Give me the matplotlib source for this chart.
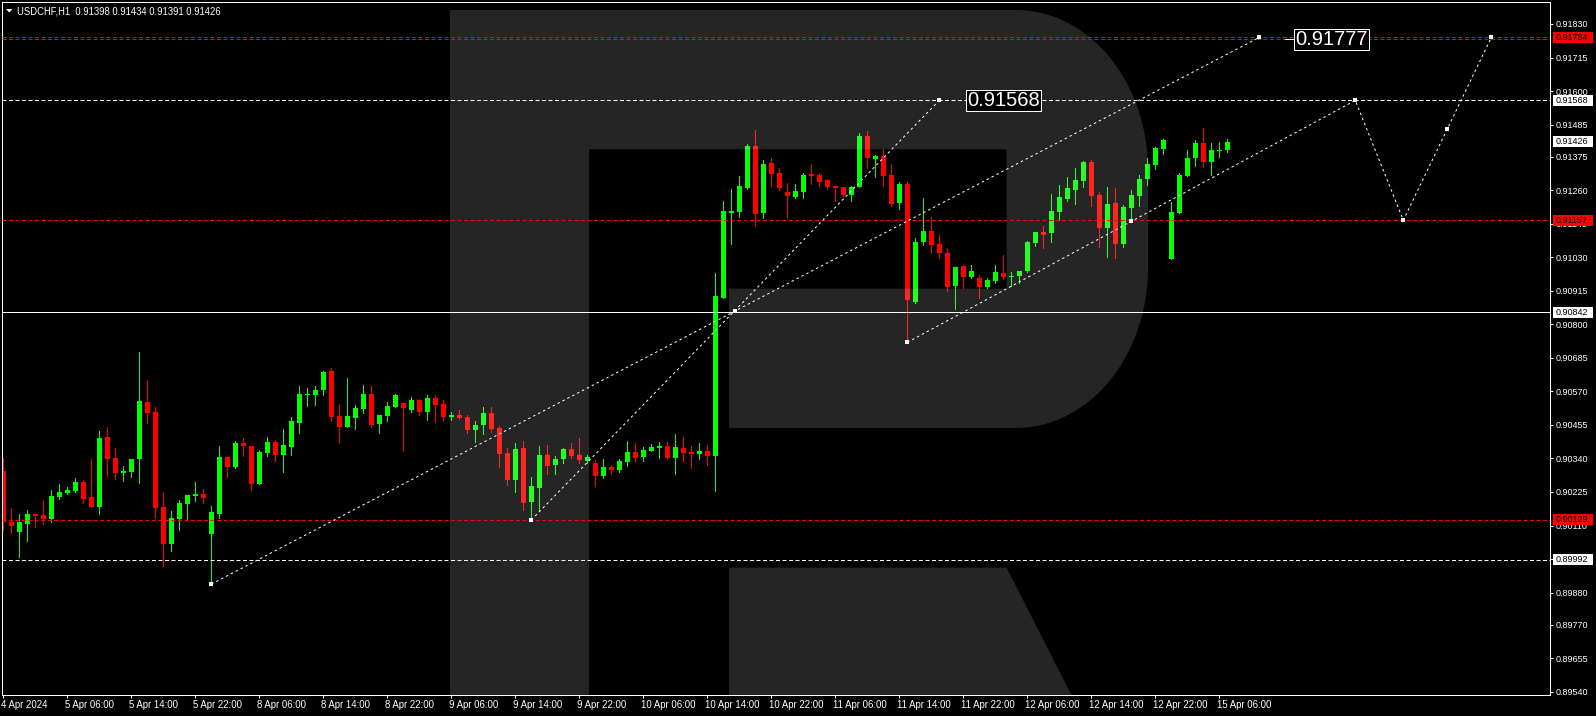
import matplotlib
matplotlib.use("Agg")
import matplotlib.pyplot as plt
import matplotlib.transforms as mtransforms
from matplotlib.patches import Polygon, Rectangle
from matplotlib import font_manager
import numpy as np

# ---------------- data (USDCHF H1, bar index 0 = 4 Apr 22:00) ----------------
opens = [0.90297, 0.90122, 0.90088, 0.90116, 0.90149, 0.90146, 0.90132, 0.90208, 0.90221, 0.90228,
         0.90259, 0.90207, 0.90174, 0.90413, 0.90341, 0.90291, 0.90294, 0.90338, 0.90533, 0.90499,
         0.90173, 0.90047, 0.90132, 0.90184, 0.90212, 0.90218, 0.90081, 0.90150, 0.90344, 0.90310,
         0.90392, 0.90382, 0.90253, 0.90359, 0.90396, 0.90352, 0.90380, 0.90462, 0.90557, 0.90557,
         0.90574, 0.90640, 0.90485, 0.90447, 0.90478, 0.90509, 0.90561, 0.90458, 0.90485, 0.90516,
         0.90530, 0.90506, 0.90540, 0.90499, 0.90547, 0.90526, 0.90482, 0.90489, 0.90482, 0.90437,
         0.90454, 0.90495, 0.90444, 0.90358, 0.90266, 0.90375, 0.90190, 0.90238, 0.90351, 0.90317,
         0.90338, 0.90372, 0.90351, 0.90331, 0.90324, 0.90279, 0.90310, 0.90300, 0.90327, 0.90362,
         0.90344, 0.90365, 0.90375, 0.90382, 0.90341, 0.90375, 0.90362, 0.90355, 0.90365, 0.90348,
         0.90891, 0.91182, 0.91185, 0.91267, 0.91411, 0.91181, 0.91353, 0.91319, 0.91253, 0.91236,
         0.91253, 0.91315, 0.91312, 0.91295, 0.91274, 0.91271, 0.91243, 0.91271, 0.91446, 0.91367,
         0.91377, 0.91312, 0.91216, 0.91281, 0.90876, 0.91082, 0.91120, 0.91075, 0.91044, 0.90931,
         0.91000, 0.90962, 0.90958, 0.90928, 0.90948, 0.90976, 0.90962, 0.90965, 0.90982, 0.91079,
         0.91116, 0.91113, 0.91185, 0.91229, 0.91260, 0.91291, 0.91356, 0.91243, 0.91130, 0.91216,
         0.91075, 0.91199, 0.91240, 0.91298, 0.91346, 0.91401, 0.91024, 0.91181, 0.91308, 0.91370,
         0.91422, 0.91356, 0.91394, 0.91398]
highs = [0.90341, 0.90170, 0.90149, 0.90163, 0.90149, 0.90197, 0.90231, 0.90254, 0.90242, 0.90272,
         0.90266, 0.90338, 0.90434, 0.90447, 0.90375, 0.90314, 0.90338, 0.90705, 0.90609, 0.90516,
         0.90224, 0.90159, 0.90197, 0.90214, 0.90259, 0.90235, 0.90176, 0.90382, 0.90344, 0.90399,
         0.90410, 0.90382, 0.90368, 0.90413, 0.90403, 0.90440, 0.90482, 0.90588, 0.90581, 0.90588,
         0.90640, 0.90650, 0.90526, 0.90615, 0.90523, 0.90591, 0.90588, 0.90489, 0.90533, 0.90561,
         0.90530, 0.90550, 0.90543, 0.90557, 0.90557, 0.90540, 0.90499, 0.90506, 0.90489, 0.90468,
         0.90516, 0.90516, 0.90451, 0.90375, 0.90392, 0.90399, 0.90276, 0.90382, 0.90386, 0.90348,
         0.90375, 0.90392, 0.90410, 0.90351, 0.90334, 0.90338, 0.90317, 0.90338, 0.90399, 0.90392,
         0.90379, 0.90389, 0.90396, 0.90396, 0.90423, 0.90413, 0.90382, 0.90392, 0.90386, 0.90976,
         0.91223, 0.91264, 0.91308, 0.91418, 0.91466, 0.91363, 0.91370, 0.91336, 0.91284, 0.91281,
         0.91319, 0.91349, 0.91319, 0.91298, 0.91274, 0.91271, 0.91274, 0.91456, 0.91463, 0.91380,
         0.91401, 0.91349, 0.91288, 0.91288, 0.91096, 0.91233, 0.91168, 0.91106, 0.91061, 0.90996,
         0.91000, 0.91003, 0.90969, 0.90958, 0.91003, 0.91037, 0.90979, 0.90982, 0.91085, 0.91116,
         0.91137, 0.91247, 0.91277, 0.91305, 0.91336, 0.91360, 0.91363, 0.91253, 0.91271, 0.91267,
         0.91209, 0.91260, 0.91312, 0.91370, 0.91408, 0.91435, 0.91219, 0.91319, 0.91398, 0.91432,
         0.91473, 0.91422, 0.91425, 0.91434]
lows = [0.90094, 0.90085, 0.90003, 0.90057, 0.90105, 0.90116, 0.90123, 0.90201, 0.90219, 0.90224,
        0.90188, 0.90174, 0.90150, 0.90280, 0.90270, 0.90263, 0.90277, 0.90256, 0.90462, 0.90136,
        0.89972, 0.90023, 0.90094, 0.90128, 0.90195, 0.90188, 0.89907, 0.90136, 0.90277, 0.90308,
        0.90349, 0.90232, 0.90253, 0.90349, 0.90332, 0.90294, 0.90352, 0.90428, 0.90520, 0.90524,
        0.90557, 0.90468, 0.90392, 0.90447, 0.90440, 0.90495, 0.90447, 0.90427, 0.90468, 0.90516,
        0.90365, 0.90499, 0.90489, 0.90471, 0.90465, 0.90468, 0.90471, 0.90475, 0.90427, 0.90396,
        0.90423, 0.90430, 0.90310, 0.90248, 0.90224, 0.90163, 0.90129, 0.90159, 0.90286, 0.90286,
        0.90324, 0.90341, 0.90324, 0.90324, 0.90245, 0.90272, 0.90286, 0.90293, 0.90314, 0.90331,
        0.90331, 0.90365, 0.90341, 0.90338, 0.90286, 0.90331, 0.90307, 0.90338, 0.90317, 0.90228,
        0.90891, 0.91076, 0.91168, 0.91264, 0.91137, 0.91164, 0.91274, 0.91260, 0.91168, 0.91233,
        0.91233, 0.91281, 0.91274, 0.91264, 0.91223, 0.91240, 0.91223, 0.91271, 0.91336, 0.91305,
        0.91274, 0.91205, 0.91195, 0.90738, 0.90873, 0.91072, 0.91044, 0.91027, 0.90914, 0.90852,
        0.90924, 0.90958, 0.90890, 0.90924, 0.90941, 0.90955, 0.90931, 0.90941, 0.90979, 0.91068,
        0.91061, 0.91082, 0.91157, 0.91223, 0.91212, 0.91271, 0.91205, 0.91065, 0.91031, 0.91027,
        0.91065, 0.91157, 0.91205, 0.91277, 0.91332, 0.91384, 0.91024, 0.91181, 0.91308, 0.91343,
        0.91339, 0.91312, 0.91374, 0.91391]
closes = [0.90122, 0.90109, 0.90122, 0.90149, 0.90143, 0.90132, 0.90211, 0.90224, 0.90231, 0.90259,
          0.90200, 0.90174, 0.90410, 0.90338, 0.90291, 0.90297, 0.90338, 0.90537, 0.90496, 0.90171,
          0.90047, 0.90135, 0.90187, 0.90214, 0.90218, 0.90205, 0.90156, 0.90344, 0.90311, 0.90392,
          0.90383, 0.90253, 0.90362, 0.90396, 0.90351, 0.90386, 0.90468, 0.90561, 0.90562, 0.90574,
          0.90636, 0.90482, 0.90447, 0.90485, 0.90513, 0.90561, 0.90454, 0.90489, 0.90519, 0.90557,
          0.90513, 0.90540, 0.90499, 0.90547, 0.90523, 0.90482, 0.90489, 0.90478, 0.90437, 0.90454,
          0.90495, 0.90440, 0.90355, 0.90266, 0.90372, 0.90187, 0.90245, 0.90351, 0.90314, 0.90338,
          0.90372, 0.90348, 0.90334, 0.90344, 0.90279, 0.90310, 0.90300, 0.90331, 0.90362, 0.90341,
          0.90368, 0.90379, 0.90382, 0.90341, 0.90379, 0.90358, 0.90355, 0.90365, 0.90348, 0.90897,
          0.91188, 0.91188, 0.91274, 0.91411, 0.91178, 0.91349, 0.91315, 0.91267, 0.91240, 0.91257,
          0.91312, 0.91308, 0.91288, 0.91271, 0.91267, 0.91243, 0.91271, 0.91446, 0.91370, 0.91377,
          0.91308, 0.91212, 0.91281, 0.90883, 0.91082, 0.91120, 0.91072, 0.91044, 0.90928, 0.90996,
          0.90962, 0.90982, 0.90928, 0.90952, 0.90979, 0.90962, 0.90965, 0.90982, 0.91082, 0.91116,
          0.91106, 0.91188, 0.91236, 0.91267, 0.91295, 0.91356, 0.91240, 0.91130, 0.91212, 0.91075,
          0.91202, 0.91243, 0.91298, 0.91349, 0.91404, 0.91432, 0.91185, 0.91312, 0.91370, 0.91422,
          0.91356, 0.91398, 0.91398, 0.91426]

time_ticks = list(range(0, 153, 8))
time_labels = ["4 Apr 2024", "5 Apr 06:00", "5 Apr 14:00", "5 Apr 22:00", "8 Apr 06:00",
               "8 Apr 14:00", "8 Apr 22:00", "9 Apr 06:00", "9 Apr 14:00", "9 Apr 22:00",
               "10 Apr 06:00", "10 Apr 14:00", "10 Apr 22:00", "11 Apr 06:00", "11 Apr 14:00",
               "11 Apr 22:00", "12 Apr 06:00", "12 Apr 14:00", "12 Apr 22:00", "15 Apr 06:00"]

price_ticks = [0.91830, 0.91715, 0.91600, 0.91485, 0.91375, 0.91260, 0.91145, 0.91030,
               0.90915, 0.90800, 0.90685, 0.90570, 0.90455, 0.90340, 0.90225, 0.90110,
               0.89995, 0.89880, 0.89770, 0.89655, 0.89540]

level_prices = [0.91784, 0.91777, 0.91568, 0.91157, 0.90842, 0.90129, 0.89992]
level_colors = ["#FF0000", "#FF0000", "#FFFFFF", "#FF0000", "#FFFFFF", "#FF0000", "#FFFFFF"]
level_solid = [False, False, False, False, True, False, False]

tag_prices = [0.91784, 0.91568, 0.91426, 0.91157, 0.90842, 0.90129, 0.89992]
tag_colors = ["#FF0000", "#FFFFFF", "#FFFFFF", "#FF0000", "#FFFFFF", "#FF0000", "#FFFFFF"]

trend_a_x = [26, 91.5, 157]
trend_a_y = [0.89909, 0.90846, 0.91784]
trend_b_x = [66, 117]
trend_b_y = [0.90129, 0.91568]
trend_c_x = [113, 141, 169, 175, 180.5, 186]
trend_c_y = [0.90738, 0.91153, 0.91568, 0.91157, 0.91470, 0.91784]

target_texts = ["0.91777", "0.91568"]
target_x = [166, 125]
target_y = [0.91777, 0.91568]

title_text = "USDCHF,H1  0.91398 0.91434 0.91391 0.91426"

# ---------------- figure ----------------
W, H = 1596, 716
plt.rcParams["font.family"] = ["Liberation Sans", "DejaVu Sans"]
names = {f.name for f in font_manager.fontManager.ttflist}
if "Liberation Sans Narrow" in names:
    big_family, big_size = ["Liberation Sans Narrow", "Liberation Sans"], 17.0
else:
    big_family, big_size = ["Liberation Sans", "DejaVu Sans"], 14.5

fig = plt.figure(figsize=(W / 100, H / 100), dpi=100, facecolor="black")
L, R, T, B = 2, 1550, 2, 695
ax = fig.add_axes([L / W, (H - B) / H, (R - L) / W, (B - T) / H])
ax.set_facecolor("black")
ax.set_xlim((L - 3.3) / 8, (R - 3.3) / 8)
ax.set_ylim(0.895287, 0.919054)
px_price = (0.919054 - 0.895287) / (B - T)
LW = 0.72  # 1 pixel

# pixel transform (x right, y down from top-left of figure)
px = mtransforms.Affine2D().scale(1, -1).translate(0, H)

# candles
o = np.array(opens); h = np.array(highs); lo = np.array(lows); c = np.array(closes)
idx = np.arange(len(o))
cols = np.where(c >= o, "#00FF00", "#FF0000")
ax.vlines(idx, lo, h, colors=cols, linewidth=LW, zorder=2, antialiased=False)
ax.bar(idx, np.maximum(np.abs(c - o), px_price), bottom=np.minimum(o, c), width=5 / 8,
       color=cols, linewidth=0, zorder=2.1, antialiased=False)

# watermark "R"
t1 = np.linspace(-np.pi / 2, 0, 30)
t2 = np.linspace(0, np.pi / 2, 30)
outer = [(450, 10), (1016, 10)]
outer += list(zip(1016 + 132 * np.cos(t1), 170 + 160 * np.sin(t1)))
outer += list(zip(1016 + 132 * np.cos(t2), 268 + 160 * np.sin(t2)))
outer += [(729, 428), (729, 288.6), (1006.6, 288.6), (1006.6, 149.3), (589, 149.3),
          (589, 700), (450, 700), (450, 10)]
leg = [(729, 567.6), (1006.6, 567.6), (1074, 700), (729, 700), (729, 567.6)]
for poly in (outer, leg):
    ax.add_patch(Polygon(poly, closed=True, transform=px, facecolor="white", alpha=0.15,
                         edgecolor="none", zorder=2.5))

# horizontal levels
for p, col, solid in zip(level_prices, level_colors, level_solid):
    if solid:
        ax.axhline(p, color=col, linewidth=LW, zorder=3)
    else:
        ax.axhline(p, color=col, linewidth=LW, dashes=(4, 2.5), zorder=3)

# trend lines
for xs, ys in ((trend_a_x, trend_a_y), (trend_b_x, trend_b_y), (trend_c_x, trend_c_y)):
    ax.plot(xs, ys, color="white", linewidth=LW, dashes=(2.5, 3), zorder=3.2)
    ax.plot(xs, ys, linestyle="none", marker="s", markersize=2.2, color="white",
            markeredgewidth=0, zorder=3.3)

# target boxes
for s, x, y in zip(target_texts, target_x, target_y):
    ax.text(x, y, s, color="white", fontsize=big_size, family=big_family, ha="center",
            va="center", zorder=6,
            bbox=dict(boxstyle="square,pad=0.06", facecolor="black", edgecolor="white",
                      linewidth=LW))
ax.plot([160.2, 161.6], [target_y[0], target_y[0]], color="white", linewidth=LW, zorder=5)

# axes styling
for sp in ax.spines.values():
    sp.set_color("white")
    sp.set_linewidth(LW)
ax.yaxis.tick_right()
ax.set_yticks(price_ticks)
ax.set_yticklabels([f"{v:.5f}" for v in price_ticks])
ax.set_xticks(time_ticks)
ax.set_xticklabels(time_labels)
ax.tick_params(axis="both", colors="white", labelcolor="white", labelsize=6.5,
               length=2.2, width=LW, direction="out")
ax.tick_params(axis="y", pad=2.2)
ax.tick_params(axis="x", pad=1.2, labelsize=6.9)
shift = mtransforms.ScaledTranslation(-2 / 100, 0, fig.dpi_scale_trans)
for lbl in ax.get_xticklabels():
    lbl.set_horizontalalignment("left")
    lbl.set_transform(lbl.get_transform() + shift)

# price tags on the right axis
tr = mtransforms.blended_transform_factory(ax.transAxes, ax.transData)
x_box = 1 + 3 / (R - L)
x_txt = 1 + 6 / (R - L)
for p, col in zip(tag_prices, tag_colors):
    ax.add_patch(Rectangle((x_box, p - 5.5 * px_price), 40 / (R - L), 11 * px_price,
                           transform=tr, facecolor=col, edgecolor="none", clip_on=False,
                           zorder=6))
    ax.text(x_txt, p, f"{p:.5f}", transform=tr, ha="left", va="center", fontsize=6.5,
            color="black", clip_on=False, zorder=7)

# title
fig.add_artist(Polygon([(6, 9), (12.5, 9), (9.25, 12.5)], closed=True, transform=px,
                       facecolor="white", edgecolor="none"))
fig.text(17 / W, 1 - 11 / H, title_text, color="white", fontsize=6.85, ha="left", va="center")

fig.savefig("out.png", dpi=100, facecolor="black")
